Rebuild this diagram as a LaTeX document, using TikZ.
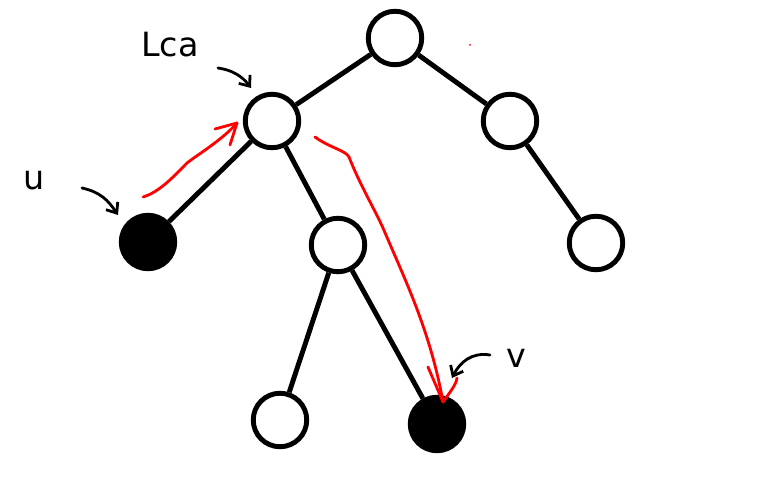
\documentclass[tikz,border=0pt]{standalone}
\usepackage{fontspec}
\setmainfont{DejaVu Sans}
\usetikzlibrary{arrows.meta}
\begin{document}
\begin{tikzpicture}[x=0.02cm,y=-0.02cm,
  vert/.style={circle,draw=black,line width=2.8pt,minimum size=1.07cm,inner sep=0pt,fill=white},
  full/.style={vert,fill=black},
  edge/.style={line width=2.8pt},
  redpath/.style={draw=red,line width=1.6pt,line cap=round,line join=round},
  pointer/.style={line width=1.6pt,line cap=round,-{Straight Barb[length=5pt,width=8pt]}},
  lbl/.style={font=\fontsize{19}{19}\selectfont,inner sep=0pt}]
\useasboundingbox (0,0) rectangle (765,482);
\fill[white] (0,0) rectangle (765,482);
% nodes
\node[vert] (root) at (395,38) {};
\node[vert] (lca) at (272,121) {};
\node[vert] (rc) at (510,121) {};
\node[full] (u) at (148,242) {};
\node[vert] (mid) at (338,245) {};
\node[vert] (rr) at (596,243) {};
\node[vert] (bl) at (280,420) {};
\node[full] (v) at (437,424) {};
% edges
\draw[edge] (root) -- (lca);
\draw[edge] (root) -- (rc);
\draw[edge] (lca) -- (u);
\draw[edge] (lca) -- (mid);
\draw[edge] (rc) -- (rr);
\draw[edge] (mid) -- (bl);
\draw[edge] (mid) -- (v);
% labels
\node[lbl] (lu) at (34,180) {u};
\node[lbl] (llca) at (170,45) {Lca};
\node[lbl] (lv) at (516,358) {v};
% pointer arrows
\coordinate (pu0) at (82,188);
\coordinate (pu1) at (118,215);
\draw[pointer] (pu0) .. controls (100,192) and (108,200) .. (pu1);
\coordinate (pl0) at (218,68);
\coordinate (pl1) at (251,88);
\draw[pointer] (pl0) .. controls (232,70) and (242,76) .. (pl1);
\coordinate (pv0) at (490,355);
\coordinate (pv1) at (452,378);
\draw[pointer] (pv0) .. controls (472,352) and (460,362) .. (pv1);
% red paths
\coordinate (r0) at (143,197);
\coordinate (r1) at (237,123);
\draw[redpath] (r0) .. controls (160,192) and (175,175) .. (187,163)
  .. controls (200,153) and (222,140) .. (r1);
\draw[redpath] (r1) -- (215,129);
\draw[redpath] (r1) -- (230,145);
\coordinate (s0) at (315,137);
\coordinate (s1) at (443,402);
\draw[redpath] (s0) .. controls (330,148) and (345,150) .. (349,157)
  .. controls (360,185) and (375,210) .. (383,228)
  .. controls (405,280) and (430,330) .. (s1);
\draw[redpath] (s1) -- (428,367);
\draw[redpath] (s1) .. controls (450,392) and (456,385) .. (457,378);
\fill[red] (470,45) circle (1);
\end{tikzpicture}
\end{document}
